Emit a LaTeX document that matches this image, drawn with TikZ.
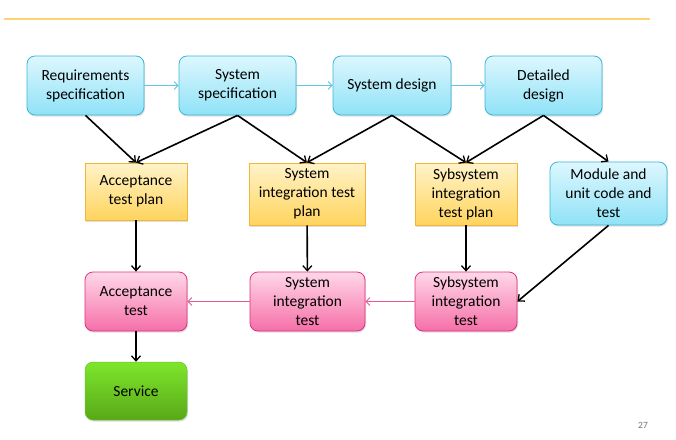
\documentclass[tikz,border=0pt]{standalone}
\usepackage{fontspec}
\setmainfont{Carlito}
\usetikzlibrary{arrows.meta,shadows}
\definecolor{bluetop}{HTML}{DDF7FE}
\definecolor{bluebot}{HTML}{8FE2F7}
\definecolor{blueline}{HTML}{3BB5D8}
\definecolor{yeltop}{HTML}{FFF3C8}
\definecolor{yelbot}{HTML}{FFD45E}
\definecolor{yelline}{HTML}{F2B53A}
\definecolor{pinktop}{HTML}{FFD8E8}
\definecolor{pinkbot}{HTML}{F56FA8}
\definecolor{pinkline}{HTML}{E0307C}
\definecolor{greentop}{HTML}{7EE62C}
\definecolor{greenbot}{HTML}{58A818}
\definecolor{greenline}{HTML}{6CC624}
\definecolor{rule}{HTML}{FFD274}
\tikzset{
  x=1pt, y=-1pt,
  base/.style={align=center, inner sep=2pt, font=\fontsize{15.5}{19}\selectfont, text=black,
    drop shadow={shadow xshift=1pt, shadow yshift=-1.5pt, opacity=0.25}},
  bluebox/.style={base, rounded corners=8pt, draw=blueline, line width=0.8pt, top color=bluetop, bottom color=bluebot},
  yelbox/.style={base, draw=yelline, line width=0.8pt, top color=yeltop, bottom color=yelbot},
  pinkbox/.style={base, rounded corners=8pt, draw=pinkline, line width=0.8pt, top color=pinktop, bottom color=pinkbot},
  greenbox/.style={base, rounded corners=8pt, draw=greenline, line width=0.5pt, top color=greentop, bottom color=greenbot},
  blk/.style={-{Straight Barb[length=5pt,width=9pt,line width=1.3pt]}, line width=1.6pt, black},
  bluearr/.style={-{Straight Barb[length=4pt,width=8pt]}, line width=0.8pt, blueline!80},
  pinkarr/.style={-{Straight Barb[length=4pt,width=8pt]}, line width=0.8pt, pinkline!80},
}
\begin{document}
\begin{tikzpicture}
\useasboundingbox (0,0) rectangle (676,439);
\fill[white] (0,0) rectangle (676,439);
\draw[rule, line width=2pt] (4,18.5) -- (650,18.5);
% top row
\node[bluebox, minimum width=117pt, minimum height=59pt] (req) at (85.5,85.5) {Requirements\\specification};
\node[bluebox, minimum width=117pt, minimum height=59pt] (sspec) at (237.5,85.5) {System\\specification};
\node[bluebox, minimum width=118pt, minimum height=59pt] (sdes) at (392,85.5) {System design};
\node[bluebox, minimum width=117pt, minimum height=59pt] (ddes) at (543.5,85.5) {Detailed\\design};
% second row
\node[yelbox, minimum width=102pt, minimum height=57pt] (atp) at (136,191.5) {Acceptance\\test plan};
\node[yelbox, minimum width=116pt, minimum height=62pt] (sitp) at (307,194) {System\\integration test\\plan};
\node[yelbox, minimum width=102pt, minimum height=62pt] (subitp) at (466,194) {Sybsystem\\integration\\test plan};
\node[bluebox, minimum width=117pt, minimum height=63pt] (mod) at (608.5,193.5) {Module and\\unit code and\\test};
% third row
\node[pinkbox, minimum width=102pt, minimum height=59pt] (at) at (136,301.5) {Acceptance\\test};
\node[pinkbox, minimum width=115pt, minimum height=59pt] (sit) at (307.5,301.5) {System\\integration\\test};
\node[pinkbox, minimum width=102pt, minimum height=59pt] (subit) at (466,301.5) {Sybsystem\\integration\\test};
% service
\node[greenbox, minimum width=102pt, minimum height=58pt] (serv) at (136,391) {Service};
% page number
\node[font=\fontsize{9.5}{10}\selectfont, text=black!55] (pg) at (643,425) {27};
% blue arrows
\draw[bluearr] (req) -- (sspec);
\draw[bluearr] (sspec) -- (sdes);
\draw[bluearr] (sdes) -- (ddes);
% black arrows
\draw[blk] (req.south) -- (atp.north);
\draw[blk] (sspec.south) -- (atp.north);
\draw[blk] (sspec.south) -- (sitp.north);
\draw[blk] (sdes.south) -- (sitp.north);
\draw[blk] (sdes.south) -- (subitp.north);
\draw[blk] (ddes.south) -- (subitp.north);
\draw[blk] (ddes.south) -- (mod.north);
\draw[blk] (atp) -- (at);
\draw[blk] (sitp) -- (sit);
\draw[blk] (subitp) -- (subit);
\draw[blk] (at) -- (serv);
\draw[blk] (mod.south) -- (subit.east);
% pink arrows
\draw[pinkarr] (subit) -- (sit);
\draw[pinkarr] (sit) -- (at);
\end{tikzpicture}
\end{document}
